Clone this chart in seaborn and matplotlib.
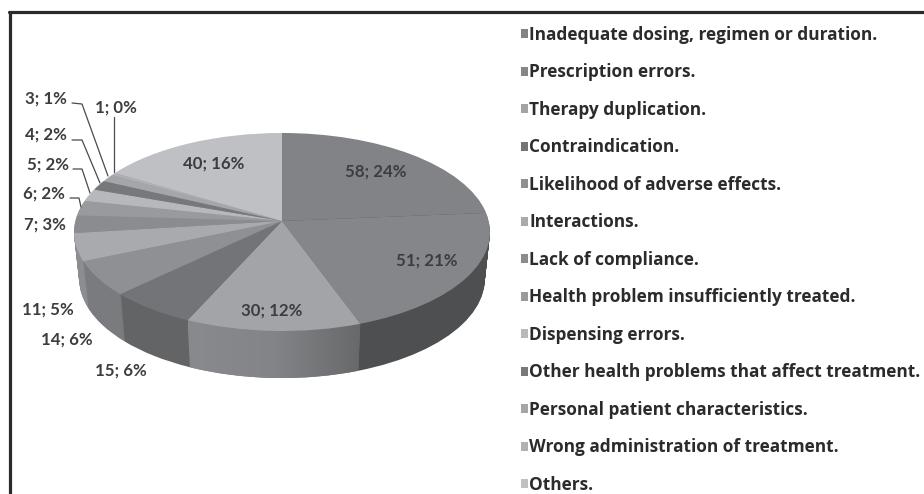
import numpy as np
import matplotlib
matplotlib.use("Agg")
import matplotlib.pyplot as plt
import seaborn as sns
from matplotlib.lines import Line2D
from matplotlib.path import Path
from matplotlib.patches import PathPatch
from matplotlib.transforms import Transform, Affine2D
from matplotlib.colors import LinearSegmentedColormap

categories = ["Inadequate dosing, regimen or duration.", "Prescription errors.",
              "Therapy duplication.", "Contraindication.", "Likelihood of adverse effects.",
              "Interactions.", "Lack of compliance.", "Health problem insufficiently treated.",
              "Dispensing errors.", "Other health problems that affect treatment.",
              "Personal patient characteristics.", "Wrong administration of treatment.", "Others."]
counts = [58, 51, 30, 15, 14, 11, 7, 6, 5, 4, 3, 1, 40]
percents = [24, 21, 12, 6, 6, 5, 3, 2, 2, 2, 1, 0, 16]
top_colors = ["#828386", "#85868a", "#a3a4a8", "#737477", "#8f9093", "#a9aaad", "#8b8c8f",
              "#999a9d", "#b7b8bb", "#77787b", "#a5a6a9", "#b0b1b4", "#bfc0c3"]
wall_colors = ["#4e4f51", "#4e4f51", "#78797c", "#636466", "#7a7b7e", "#8c8d90", "#8c8d90",
               "#8c8d90", "#8c8d90", "#8c8d90", "#8c8d90", "#8c8d90", "#8c8d90"]

W, H = 924, 494
CX, CY, DEPTH = 282, 221, 47
SX, SY, K = 206.7, 97.8, 1 / 9


class Tilt(Transform):
    """Perspective view of the unit pie, result in pixels around the pie centre."""
    input_dims = output_dims = 2
    is_affine = False

    def transform_non_affine(self, values):
        v = np.asarray(values, dtype=float)
        w = 1 + K * v[:, 1]
        return np.c_[SX * v[:, 0] / w, SY * v[:, 1] / w]

    def inverted(self):
        raise NotImplementedError


def set_limits(a):
    a.set_aspect("auto")
    a.set_xlim(-CX, W - CX)
    a.set_ylim(CY - H, CY)


sns.set_theme(style="white")
plt.rcParams["font.family"] = ["Open Sans", "DejaVu Sans"]

fig = plt.figure(figsize=(W / 100, H / 100), dpi=100, facecolor="white")
ax = fig.add_axes([0, 0, 1, 1])
tilt = Tilt()

# side wall: the same pie stacked downwards, shrinking a little with depth
for step in range(DEPTH, 0, -1):
    parts, _ = ax.pie(counts, colors=wall_colors, startangle=90, counterclock=False,
                      frame=True, wedgeprops=dict(linewidth=0))
    shift = Affine2D().scale(1 - 0.025 * step / DEPTH, 1).translate(0, -step)
    for p in parts:
        p.set_transform(tilt + shift + ax.transData)
        p.set_zorder(2)

wedges, _ = ax.pie(counts, colors=top_colors, startangle=90, counterclock=False,
                   frame=True, wedgeprops=dict(linewidth=0))
for wd in wedges:
    wd.set_transform(tilt + ax.transData)
    wd.set_zorder(4)

# lit gradient on the wall of the third slice
w3 = wedges[2]
th = np.radians(np.linspace(w3.theta1, w3.theta2, 40))
rim = tilt.transform(np.c_[np.cos(th), np.sin(th)])
low = rim * [0.975, 1] + [0, -DEPTH]
verts = np.r_[rim, low[::-1], rim[:1]]
clip = PathPatch(Path(verts), transform=ax.transData, fc="none", ec="none")
ax.add_patch(clip)
im = ax.imshow(np.linspace(0, 1, 64)[None, :],
               extent=(verts[:, 0].min(), verts[:, 0].max(), verts[:, 1].min(), verts[:, 1].max()),
               cmap=LinearSegmentedColormap.from_list("wall", ["#898a8d", "#838487", "#68696b"]),
               aspect="auto", zorder=3)
im.set_clip_path(clip)
set_limits(ax)
ax.axis("off")


def px(x, y):
    return x / W, 1 - y / H


labels = [f"{c}; {p}%" for c, p in zip(counts, percents)]
label_pos = [(376, 172), (427, 261), (272, 311), (121, 371), (67, 340), (48, 310), (45, 225),
             (44, 194), (48, 165), (46, 135), (46, 99), (116, 108), (214, 164)]
for txt, (x, y) in zip(labels, label_pos):
    fx, fy = px(x, y)
    fig.text(fx, fy, txt, ha="center", va="center", fontsize=12.2, fontweight="bold",
             family=["Lato", "DejaVu Sans"], color="#3c3d3f", zorder=6)

leaders = [[(72, 103), (82, 104), (108, 176)],
           [(72, 140), (82, 140), (100, 183)],
           [(73, 169), (82, 169), (90, 193)],
           [(70, 198), (79, 198), (81, 207)],
           [(114, 117), (114, 172)]]
for pts in leaders:
    f = [px(*p) for p in pts]
    fig.add_artist(Line2D([a for a, _ in f], [b for _, b in f], color="#4a4a4c", lw=0.9, zorder=6))

leg = ax.legend(wedges, categories, loc="upper left", bbox_to_anchor=px(521, 26),
                bbox_transform=fig.transFigure, frameon=False, ncol=1,
                prop=dict(family="Open Sans", weight="bold", size=12.4),
                handlelength=0.42, handleheight=0.42, handletextpad=0.05,
                labelspacing=1.132, borderpad=0, borderaxespad=0)
for t in leg.get_texts():
    t.set_color("#2b2b2d")

# outer frame: top and left rules
for a, b in [((9, 12), (W, 12)), ((10, 12), (10, H))]:
    fa, fb = px(*a), px(*b)
    fig.add_artist(Line2D([fa[0], fb[0]], [fa[1], fb[1]], color="#2a2a2a", lw=2.3))

fig.savefig("out.png", dpi=100, facecolor="white")
